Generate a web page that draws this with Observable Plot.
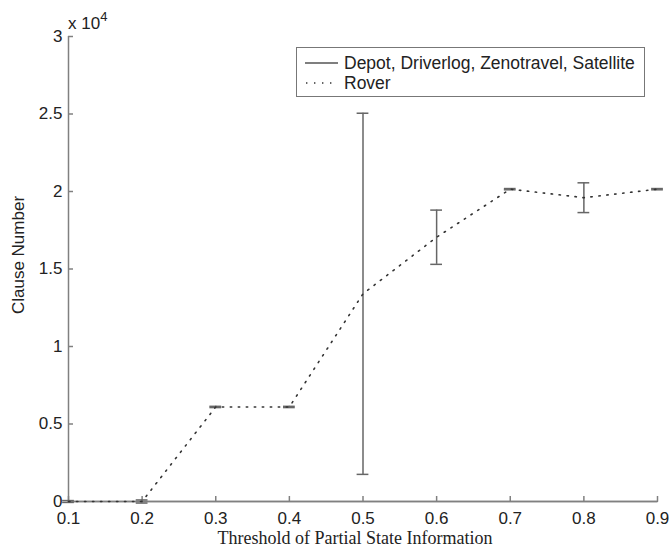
<!DOCTYPE html>
<html>
<head>
<meta charset="utf-8">
<script src="https://cdn.jsdelivr.net/npm/d3@7"></script>
<script src="https://cdn.jsdelivr.net/npm/@observablehq/plot@0.6"></script>
<style>
  body { margin: 0; background: #fff; }
  #wrap { position: relative; width: 669px; height: 553px; font-family: "Liberation Sans", Arial, sans-serif; }
  #wrap > svg { position: absolute; left: 0; top: 0; }
  .exp { position: absolute; left: 68px; top: 10px; font-size: 17px; color: #222; }
  .exp sup { font-size: 13px; position: relative; top: -1px; }
  .legend { position: absolute; left: 296px; top: 47px; width: 347px; height: 48px; border: 1.5px solid #777; background: #fff; font-size: 17.5px; color: #222; }
  .legend .row { position: absolute; left: 0; height: 20px; display: flex; align-items: center; white-space: nowrap; }
  .legend .row svg { margin-left: 8px; margin-right: 6px; }
</style>
</head>
<body>
<div id="wrap"></div>
<script>
// Threshold levels on the x axis
const thresholds = [0.1, 0.2, 0.3, 0.4, 0.5, 0.6, 0.7, 0.8, 0.9];
// Depot, Driverlog, Zenotravel, Satellite: clause numbers stay near zero
const otherDomains = [0, 0, 0, 0, 0, 0, 0, 0, 0];
// Rover: mean clause number and error half-width
const roverMean = [0, 0, 6100, 6100, 13400, 17050, 20150, 19600, 20150];
const roverErr = [60, 100, 40, 40, 11650, 1750, 40, 960, 40];
const xTicks = [0.1, 0.2, 0.3, 0.4, 0.5, 0.6, 0.7, 0.8, 0.9];
const yTicks = [0, 5000, 10000, 15000, 20000, 25000, 30000];

const rover = thresholds.map((x, i) => ({x, y: roverMean[i], lo: roverMean[i] - roverErr[i], hi: roverMean[i] + roverErr[i]}));
const others = thresholds.map((x, i) => ({x, y: otherDomains[i]}));
const capHalf = 0.008;

const axisColor = "#808080";

const chart = Plot.plot({
  width: 669,
  height: 553,
  marginLeft: 68,
  marginRight: 12,
  marginTop: 36,
  marginBottom: 52,
  style: {fontFamily: "Liberation Sans, Arial, sans-serif", fontSize: "17px", color: "#222", background: "transparent"},
  x: {domain: [0.1, 0.9]},
  y: {domain: [0, 30000]},
  marks: [
    Plot.axisX(xTicks, {tickSize: -5, tickPadding: 15, stroke: axisColor, strokeWidth: 1.5, tickFormat: d => String(d), fill: "#222", fontSize: 17, label: null}),
    Plot.axisY(yTicks, {tickSize: -5, tickPadding: 11, stroke: axisColor, strokeWidth: 1.5, tickFormat: d => String(d / 10000), fill: "#222", fontSize: 17, label: null}),
    Plot.ruleY([0], {stroke: axisColor, strokeWidth: 1.5}),
    Plot.ruleX([0.1], {stroke: axisColor, strokeWidth: 1.5}),
    // other domains (solid line along zero)
    Plot.line(others, {x: "x", y: "y", stroke: axisColor, strokeWidth: 1.5}),
    // Rover error bars
    Plot.ruleX(rover, {x: "x", y1: "lo", y2: "hi", stroke: "#666", strokeWidth: 1.5}),
    Plot.ruleY(rover, {y: "hi", x1: d => d.x - capHalf, x2: d => d.x + capHalf, stroke: "#666", strokeWidth: 1.5}),
    Plot.ruleY(rover, {y: "lo", x1: d => d.x - capHalf, x2: d => d.x + capHalf, stroke: "#666", strokeWidth: 1.5}),
    // Rover mean line, dotted
    Plot.line(rover, {x: "x", y: "y", stroke: "#333", strokeWidth: 1.6, strokeDasharray: "1.4,6.6"}),
    Plot.text(["Threshold of Partial State Information"], {frameAnchor: "bottom", dy: 42, fontFamily: "Liberation Serif, Times New Roman, serif", fontSize: 18, fill: "#222", dx: -8}),
    Plot.text(["Clause Number"], {frameAnchor: "left", textAnchor: "middle", dx: -50, dy: -14, rotate: -90, fontSize: 17, fill: "#222"})
  ]
});

const wrap = document.getElementById("wrap");
wrap.appendChild(chart);

const exp = document.createElement("div");
exp.className = "exp";
exp.innerHTML = "x 10<sup>4</sup>";
wrap.appendChild(exp);

const legend = document.createElement("div");
legend.className = "legend";
legend.innerHTML = `
  <div class="row" style="top:5px"><svg width="33" height="4"><line x1="0" y1="2" x2="33" y2="2" stroke="#555" stroke-width="1.5"/></svg>Depot, Driverlog, Zenotravel, Satellite</div>
  <div class="row" style="top:25px"><svg width="33" height="4"><line x1="1" y1="2" x2="33" y2="2" stroke="#333" stroke-width="1.6" stroke-dasharray="1.4,6.6"/></svg>Rover</div>`;
wrap.appendChild(legend);
</script>
</body>
</html>
